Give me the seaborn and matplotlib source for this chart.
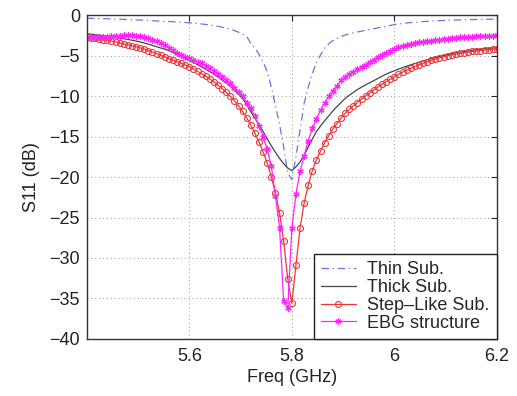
import numpy as np
import pandas as pd
import matplotlib
matplotlib.use("Agg")
import matplotlib.pyplot as plt
import seaborn as sns

freq = [round(5.4 + 0.008 * k, 3) for k in range(101)]

thin_sub = [
    -0.40, -0.41, -0.42, -0.43, -0.44, -0.46, -0.48, -0.50, -0.52, -0.54,
    -0.56, -0.58, -0.60, -0.62, -0.64, -0.67, -0.70, -0.73, -0.76, -0.80,
    -0.80, -0.83, -0.86, -0.89, -0.92, -0.96, -1.00, -1.05, -1.10, -1.16,
    -1.23, -1.31, -1.40, -1.50, -1.62, -1.76, -1.92, -2.12, -2.36, -2.66,
    -3.50, -4.10, -4.85, -5.80, -7.00, -8.90, -11.20, -13.50, -16.30, -19.50,
    -20.30, -17.50, -14.20, -10.90, -8.90, -7.20, -5.90, -4.90, -4.10, -3.55,
    -3.15, -2.88, -2.65, -2.47, -2.32, -2.20, -2.09, -1.98, -1.88, -1.78,
    -1.68, -1.58, -1.48, -1.38, -1.28, -1.19, -1.11, -1.04, -0.98, -0.93,
    -0.89, -0.85, -0.81, -0.78, -0.75, -0.72, -0.69, -0.67, -0.65, -0.63,
    -0.61, -0.60, -0.58, -0.57, -0.56, -0.55, -0.54, -0.53, -0.52, -0.51,
    -0.50,
]

thick_sub = [
    -2.30, -2.36, -2.42, -2.48, -2.55, -2.62, -2.69, -2.76, -2.84, -2.92,
    -3.01, -3.11, -3.21, -3.32, -3.45, -3.60, -3.76, -3.91, -4.06, -4.22,
    -4.40, -4.60, -4.82, -5.06, -5.32, -5.60, -5.86, -6.13, -6.40, -6.69,
    -7.00, -7.32, -7.66, -8.02, -8.40, -8.80, -9.25, -9.74, -10.30, -11.10,
    -11.95, -12.75, -13.55, -14.40, -15.30, -16.15, -16.95, -17.70, -18.35, -18.90,
    -19.20, -18.75, -18.15, -17.30, -16.30, -15.30, -14.40, -13.70, -13.05, -12.45,
    -11.85, -11.30, -10.80, -10.30, -9.90, -9.55, -9.20, -8.90, -8.62, -8.36,
    -8.10, -7.82, -7.55, -7.30, -7.08, -6.88, -6.68, -6.50, -6.32, -6.15,
    -5.98, -5.82, -5.67, -5.52, -5.38, -5.24, -5.11, -4.99, -4.88, -4.78,
    -4.68, -4.59, -4.50, -4.42, -4.35, -4.28, -4.22, -4.16, -4.11, -4.07,
    -4.04,
]

step_like = [
    -2.70, -2.78, -2.86, -2.94, -3.03, -3.12, -3.21, -3.31, -3.45, -3.55,
    -3.66, -3.79, -3.92, -4.06, -4.20, -4.38, -4.57, -4.77, -4.97, -5.17,
    -5.37, -5.57, -5.77, -5.97, -6.17, -6.38, -6.65, -6.95, -7.25, -7.55,
    -7.90, -8.25, -8.65, -9.10, -9.55, -10.05, -10.60, -11.20, -11.90, -12.70,
    -13.60, -14.60, -15.70, -16.90, -18.30, -20.00, -22.00, -24.40, -27.90, -32.60,
    -35.60, -30.90, -26.30, -23.20, -21.00, -19.20, -17.90, -16.80, -15.80, -14.90,
    -14.10, -13.40, -12.75, -12.15, -11.65, -11.20, -10.80, -10.38, -10.00, -9.62,
    -9.25, -8.88, -8.55, -8.22, -7.92, -7.62, -7.33, -7.06, -6.81, -6.57,
    -6.35, -6.14, -5.95, -5.77, -5.60, -5.44, -5.29, -5.15, -5.02, -4.91,
    -4.81, -4.72, -4.64, -4.57, -4.50, -4.44, -4.38, -4.33, -4.28, -4.24,
    -4.20,
]

ebg = [
    -2.80, -2.77, -2.74, -2.71, -2.68, -2.65, -2.61, -2.57, -2.53, -2.51,
    -2.50, -2.50, -2.55, -2.62, -2.75, -2.87, -3.02, -3.22, -3.45, -3.72,
    -4.02, -4.35, -4.65, -4.92, -5.15, -5.35, -5.55, -5.75, -5.98, -6.25,
    -6.55, -6.88, -7.22, -7.60, -8.00, -8.45, -8.95, -9.45, -10.00, -10.80,
    -11.50, -12.50, -13.70, -15.00, -16.60, -18.70, -22.30, -26.30, -35.30, -36.20,
    -26.30, -22.10, -19.30, -17.40, -15.50, -14.00, -12.80, -11.75, -10.85, -10.05,
    -9.35, -8.75, -8.05, -7.65, -7.30, -7.00, -6.72, -6.42, -6.12, -5.82,
    -5.52, -5.22, -4.95, -4.68, -4.43, -4.20, -4.00, -3.84, -3.70, -3.58,
    -3.47, -3.38, -3.30, -3.22, -3.15, -3.08, -3.02, -2.96, -2.91, -2.86,
    -2.81, -2.77, -2.73, -2.69, -2.66, -2.63, -2.60, -2.57, -2.55, -2.53,
    -2.51,
]

labels = ["Thin Sub.", "Thick Sub.", "Step\u2013Like Sub.", "EBG structure"]
xticks = [5.6, 5.8, 6.0, 6.2]
xtick_labels = ["5.6", "5.8", "6", "6.2"]
yticks = [0, -5, -10, -15, -20, -25, -30, -35, -40]

sns.set_style("white")
plt.rcParams["font.family"] = ["Liberation Sans", "DejaVu Sans"]
plt.rcParams["axes.unicode_minus"] = True

FS = 13
fig = plt.figure(figsize=(5.17, 3.96), dpi=100)
ax = fig.add_axes([0.168, 0.144, 0.793, 0.818])

sns.lineplot(x=freq, y=thin_sub, ax=ax, color="#6f6fe8", linestyle=(0, (6, 3, 1, 3)),
             linewidth=0.9, label=labels[0], estimator=None, sort=False)
sns.lineplot(x=freq, y=thick_sub, ax=ax, color="#444444", linewidth=0.9,
             label=labels[1], estimator=None, sort=False)
sns.lineplot(x=freq, y=step_like, ax=ax, color="#e8383c", linewidth=0.9,
             marker="o", markersize=4.3, markerfacecolor="none",
             markeredgecolor="#e8383c", markeredgewidth=0.8,
             label=labels[2], estimator=None, sort=False)
sns.lineplot(x=freq, y=ebg, ax=ax, color="#ff22ff", linewidth=0.9,
             marker=(6, 2, 0), markersize=4.5, markeredgewidth=0.9,
             markeredgecolor="#ff22ff", markerfacecolor="#ff22ff",
             label=labels[3], estimator=None, sort=False)

ax.set_xlim(5.4, 6.2)
ax.set_ylim(-40, 0)
ax.set_xticks(xticks)
ax.set_xticklabels(xtick_labels)
ax.set_yticks(yticks)
ax.set_yticklabels([f"{v}".replace("-", "\u2212") for v in yticks])
ax.tick_params(direction="in", top=True, right=True, length=4, width=0.8,
               labelsize=FS, colors="#222222")
ax.tick_params(axis="x", pad=6.5)
ax.tick_params(axis="y", pad=5)
ax.grid(True, linestyle=(0, (1, 3)), color="#999999", linewidth=0.7)
for s in ax.spines.values():
    s.set_color("#333333")
    s.set_linewidth(1.0)
ax.set_xlabel("Freq (GHz)", fontsize=FS, color="#222222", labelpad=3)
ax.set_ylabel("S11 (dB)", fontsize=FS, color="#222222", labelpad=7)

leg = ax.legend(loc="lower right", borderaxespad=0, fancybox=False,
                frameon=True, edgecolor="#222222", fontsize=FS,
                handlelength=1.9, handletextpad=0.65, labelspacing=0.05,
                borderpad=0.4)
leg.get_frame().set_linewidth(1.0)
leg.get_frame().set_alpha(1.0)

fig.savefig("out.png", dpi=100)
